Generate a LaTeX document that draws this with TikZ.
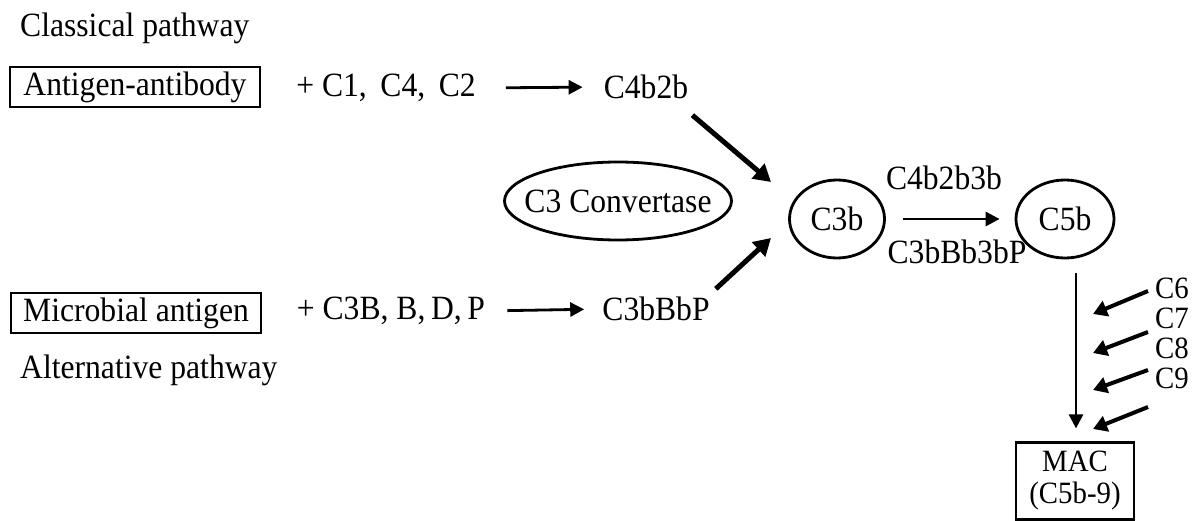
\documentclass[tikz,border=0pt]{standalone}
\usepackage{fontspec}
\setmainfont[FakeStretch=0.93]{Liberation Serif}
\usetikzlibrary{arrows.meta,shapes.geometric}
\begin{document}
\begin{tikzpicture}[x=1pt,y=-1pt,
  txt/.style={font=\fontsize{34}{30}\selectfont, inner sep=0pt},
  small/.style={font=\fontsize{31}{32}\selectfont, inner sep=0pt},
  boxed/.style={txt, draw, line width=2.2pt, minimum width=250pt, minimum height=40pt},
  oval/.style={ellipse, draw, line width=2.8pt, inner sep=0pt},
  flow/.style={line width=2.8pt, -{Triangle[length=14pt,width=14pt]}},
  fat/.style={line width=5pt, -{Triangle[length=17pt,width=19pt]}},
  feed/.style={line width=4pt, -{Triangle[length=14pt,width=16pt]}}]
\useasboundingbox (0,0) rectangle (1193,521);

% classical pathway
\node[txt, anchor=base west] (classical) at (20,37) {Classical pathway};
\node[boxed] (ag) at (135,87) {Antigen-antibody};
\node[txt] (plus1) at (386,88) {+ C1,\, C4,\, C2};
\node[txt] (c4b2b) at (646,87) {C4b2b};

% alternative pathway
\node[boxed] (micro) at (136,313) {Microbial antigen};
\node[txt] (plus2) at (391,311) {+ C3B, B,\,D,\,P};
\node[txt] (c3bbbp) at (656,309) {C3bBbP};
\node[txt, anchor=base west] (alt) at (20,378) {Alternative pathway};

% convertase and products
\node[oval, minimum width=227pt, minimum height=78pt,
      label={[txt]center:C3 Convertase}] (conv) at (618,201) {};
\node[oval, minimum width=95pt, minimum height=78pt, txt] (c3b) at (837,219) {C3b};
\node[oval, minimum width=98pt, minimum height=78pt, txt] (c5b) at (1065,219) {C5b};
\node[txt] (c4b2b3b) at (944,178) {C4b2b3b};
\node[txt] (c3bbb3bp) at (957,252) {C3bBb3bP};

% terminal components
\node[small, anchor=west] (c6) at (1155,288) {C6};
\node[small, anchor=west] (c7) at (1155,318) {C7};
\node[small, anchor=west] (c8) at (1155,348) {C8};
\node[small, anchor=west] (c9) at (1155,378) {C9};
\node[small, draw, line width=2.2pt, align=center, minimum width=118pt,
      minimum height=77pt] (mac) at (1075,481) {MAC\\(C5b-9)};

% arrow end points
\coordinate (in1) at (771,182);
\coordinate (in2) at (771,238);
\coordinate (vtop) at (1076,273);
\coordinate (s6) at (1148,291); \coordinate (e6) at (1093,314);
\coordinate (s7) at (1148,332); \coordinate (e7) at (1093,353);
\coordinate (s8) at (1148,370); \coordinate (e8) at (1093,390);
\coordinate (s9) at (1148,407); \coordinate (e9) at (1093,429);

% connectors
\draw[flow, shorten <=30pt, shorten >=21pt] (plus1.east) -- (c4b2b.west);
\draw[flow, shorten <=22pt, shorten >=18pt] (plus2.east) -- (c3bbbp.west);
\draw[fat] (c4b2b.south east) ++(4,16) -- (in1);
\draw[fat] (c3bbbp.north east) ++(6,-8) -- (in2);
\draw[flow, shorten <=17pt, shorten >=15pt] (c3b.east) -- (c5b.west);
\draw[flow, shorten >=13pt] (vtop) -- (vtop |- mac.north);
\draw[feed] (s6) -- (e6);
\draw[feed] (s7) -- (e7);
\draw[feed] (s8) -- (e8);
\draw[feed] (s9) -- (e9);
\end{tikzpicture}
\end{document}
